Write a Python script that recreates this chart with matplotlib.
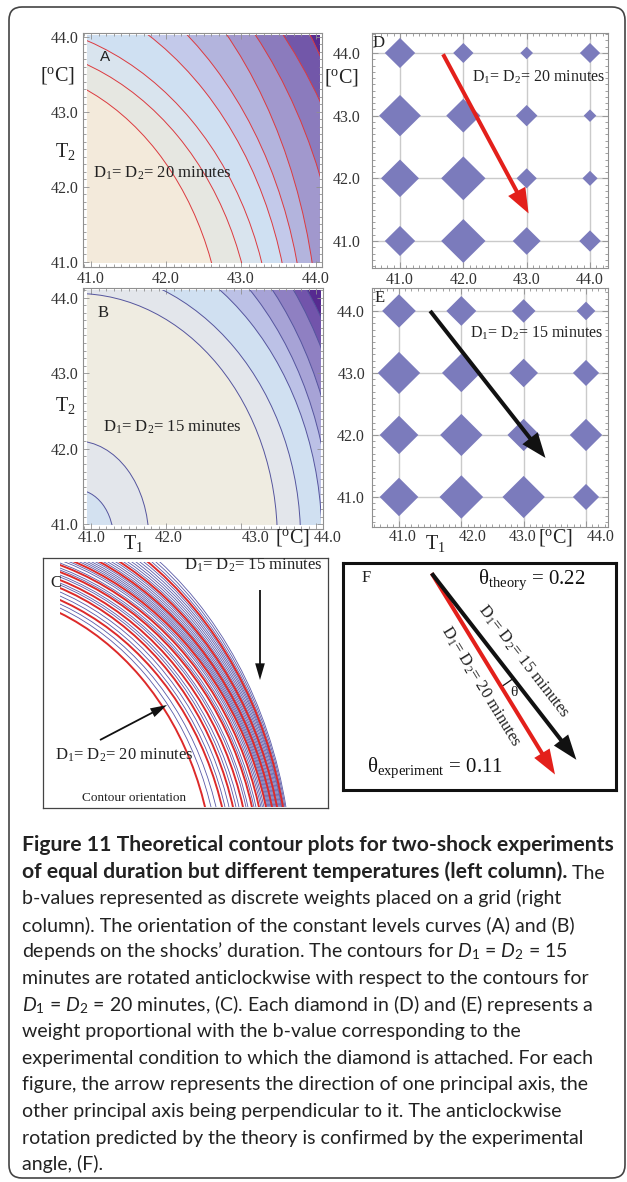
import numpy as np
import matplotlib.pyplot as plt
from matplotlib.patches import Ellipse, Polygon, Rectangle, FancyBboxPatch, Arc
from matplotlib.ticker import MultipleLocator

plt.rcParams['font.family'] = 'Liberation Serif'
plt.rcParams['mathtext.fontset'] = 'custom'
plt.rcParams['mathtext.rm'] = 'Liberation Serif'
plt.rcParams['mathtext.it'] = 'Liberation Serif:italic'
plt.rcParams['mathtext.sf'] = 'Lato:italic'
plt.rcParams['mathtext.bf'] = 'Lato'

W, H = 627, 1182

# temperature grid (deg C)
temps = [41.0, 42.0, 43.0, 44.0]
temp_labels = ['41.0', '42.0', '43.0', '44.0']

# level curves of the theoretical surface, as (T1, T2) where each curve
# enters (start) and leaves (end) the plotted square
a_start = [(40.95, 43.29), (40.95, 43.63), (40.95, 43.95), (41.76, 44.03), (42.28, 44.03),
           (42.81, 44.03), (43.19, 44.03), (43.56, 44.03), (43.92, 44.03)]
a_end = [(42.61, 40.98), (43.01, 40.98), (43.28, 40.98), (43.55, 40.98), (43.75, 40.98),
         (43.95, 40.98), (44.05, 42.16), (44.05, 43.15), (44.05, 43.76)]
b_start = [(40.95, 41.43), (40.95, 42.09), (40.95, 44.05), (41.96, 44.10), (42.72, 44.10),
           (43.12, 44.10), (43.42, 44.10), (43.70, 44.10), (43.88, 44.10)]
b_end = [(41.28, 40.99), (41.76, 40.99), (43.48, 40.99), (43.79, 40.99), (44.07, 41.10),
         (44.07, 42.07), (44.07, 42.70), (44.07, 43.33), (44.07, 43.73)]

# b-value weights (half diagonal of each diamond), rows T2 = 44..41, columns T1 = 41..44
d_weights = [[0.24, 0.16, 0.10, 0.16],
             [0.33, 0.27, 0.17, 0.10],
             [0.30, 0.35, 0.16, 0.12],
             [0.24, 0.35, 0.22, 0.17]]
e_weights = [[0.27, 0.24, 0.19, 0.15],
             [0.34, 0.31, 0.23, 0.21],
             [0.31, 0.34, 0.26, 0.26],
             [0.31, 0.35, 0.34, 0.21]]

# principal axis arrows (T1, T2): tail, head
d_arrow = [(41.68, 43.98), (43.03, 41.44)]
e_arrow = [(41.50, 44.00), (43.35, 41.63)]

theta_theory = 0.22
theta_experiment = 0.11

# contour orientation overlay: where each curve enters (left/top edge) and
# where it meets the bottom edge, in panel pixels
c_red_start = [(17, 195), (17, 208), (17, 220), (17, 228), (17, 236), (17, 243), (32, 246),
               (57, 246), (77, 246), (105, 246)]
c_red_end = [162, 179, 190, 200, 209, 216, 223, 229, 234, 240]
c_blue_start = [(17, 200), (17, 204), (17, 212), (17, 216), (17, 223), (17, 225), (17, 231),
                (17, 233), (17, 238), (17, 240), (17, 245), (22, 246), (27, 246), (37, 246),
                (41, 246), (45, 246), (49, 246), (53, 246), (61, 246), (65, 246), (69, 246),
                (73, 246), (81, 246), (85, 246), (89, 246), (93, 246), (97, 246), (101, 246),
                (109, 246), (113, 246), (117, 246)]
c_blue_end = [168, 173, 182, 186, 193, 196, 203, 205, 211, 213, 218, 219.5, 221, 224, 225, 226,
              227, 228, 230, 231, 232, 233, 235, 236, 237, 238, 238.7, 239.4, 241, 242, 243]

caption_bold = ["Figure 11 Theoretical contour plots for two-shock experiments",
                "of equal duration but different temperatures (left column)."]
caption_lines = [
    "b-values represented as discrete weights placed on a grid (right",
    "column). The orientation of the constant levels curves (A) and (B)",
    r"depends on the shocks’ duration. The contours for $\mathsf{D}_{\mathbf{1}}$ = $\mathsf{D}_{\mathbf{2}}$ = 15",
    "minutes are rotated anticlockwise with respect to the contours for",
    r"$\mathsf{D}_{\mathbf{1}}$ = $\mathsf{D}_{\mathbf{2}}$ = 20 minutes, (C). Each diamond in (D) and (E) represents a",
    "weight proportional with the b-value corresponding to the",
    "experimental condition to which the diamond is attached. For each",
    "figure, the arrow represents the direction of one principal axis, the",
    "other principal axis being perpendicular to it. The anticlockwise",
    "rotation predicted by the theory is confirmed by the experimental",
    "angle, (F).",
]

a_colors = ['#f3eadb', '#e6e7e1', '#d9e4ee', '#cfe0f2', '#c3c9ea', '#b3b4dd', '#a198cd',
            '#8b7bbd', '#7257a9', '#582c90']
b_colors = ['#d3e1f0', '#e3e6eb', '#efece1', '#e3e6eb', '#d0e0f1', '#bcc1e6', '#a7a3d6',
            '#8f80c2', '#7254ab', '#562a90']
DIAMOND = '#7b7bbc'
GRAY = '#909090'


def box(l, t, w, h):
    return [l / W, 1 - (t + h) / H, w / W, h / H]


def radii(p, q, c):
    # semi-axes of the ellipse centred on c that passes through p and q
    x1, y1 = p[0] - c[0], p[1] - c[1]
    x2, y2 = q[0] - c[0], q[1] - c[1]
    det = x1**2 * y2**2 - x2**2 * y1**2
    u = (y2**2 - y1**2) / det
    v = (x1**2 - x2**2) / det
    return 1 / np.sqrt(u), 1 / np.sqrt(v)


def style_frame(ax, xlim, ylim, ypad, xpad, xlabels=True):
    ax.set_xlim(*xlim)
    ax.set_ylim(*ylim)
    ax.set_xticks(temps)
    ax.set_yticks(temps)
    ax.set_xticklabels(temp_labels)
    ax.set_yticklabels(temp_labels)
    ax.xaxis.set_minor_locator(MultipleLocator(0.1))
    ax.yaxis.set_minor_locator(MultipleLocator(0.1))
    ax.tick_params(which='both', direction='in', top=True, right=True, color=GRAY,
                   width=0.6, labelsize=11.5, labelcolor='#333333')
    ax.tick_params(which='major', length=4)
    ax.tick_params(which='minor', length=2)
    ax.tick_params(axis='y', pad=ypad)
    ax.tick_params(axis='x', pad=xpad, labelbottom=xlabels)
    for s in ax.spines.values():
        s.set_color(GRAY)
        s.set_linewidth(0.8)


def contour_panel(ax, starts, ends, colors, line_color, fill, center):
    x0, x1, y0, y1 = fill
    bg = Rectangle((x0, y0), x1 - x0, y1 - y0, facecolor=colors[-1], edgecolor='none', zorder=0)
    ax.add_patch(bg)
    rr = [radii(p, q, center) for p, q in zip(starts, ends)]
    for (rx, ry), col in reversed(list(zip(rr, colors))):
        e = ax.add_patch(Ellipse(center, 2 * rx, 2 * ry, facecolor=col, edgecolor='none', zorder=1))
        e.set_clip_path(bg)
    for rx, ry in rr:
        e = ax.add_patch(Ellipse(center, 2 * rx, 2 * ry, facecolor='none', edgecolor=line_color,
                                 lw=0.7, zorder=2))
        e.set_clip_path(bg)


def arrow(ax, tail, head, color, shaft=2.9, hl=18, hw=14):
    ax.annotate('', xy=head, xytext=tail, zorder=5,
                arrowprops=dict(arrowstyle=f'simple,head_length={hl},head_width={hw},tail_width={shaft}',
                                mutation_scale=1, fc=color, ec='none', lw=0,
                                shrinkA=0, shrinkB=0))


def diamond_panel(ax, weights, arr, color):
    for v in temps:
        ax.axvline(v, color='#cacaca', lw=1, zorder=0)
        ax.axhline(v, color='#cacaca', lw=1, zorder=0)
    for row, t2 in zip(weights, temps[::-1]):
        for w, t1 in zip(row, temps):
            ax.add_patch(Polygon([(t1 - w, t2), (t1, t2 + w), (t1 + w, t2), (t1, t2 - w)],
                                 closed=True, facecolor=DIAMOND, edgecolor='none', zorder=2))
    arrow(ax, arr[0], arr[1], color)


fig = plt.figure(figsize=(W / 100, H / 100), dpi=100)

# ---- A: 20 minute contours
axA = fig.add_axes(box(83, 33, 239, 234))
contour_panel(axA, a_start, a_end, a_colors, '#dc3a3f', (40.95, 44.05, 40.98, 44.03), (39.7, 39.7))
style_frame(axA, (40.893, 44.08), (40.933, 44.053), 3.5, 3)
axA.text(0.092, 0.897, 'A', transform=axA.transAxes, family='Liberation Sans', fontsize=11,
         ha='center', va='center', color='#222222')
axA.text(0.042, 0.402, 'D$_1$= D$_2$= 20 minutes', transform=axA.transAxes, fontsize=12,
         ha='left', va='center', color='#222222')

# ---- B: 15 minute contours
axB = fig.add_axes(box(83, 288, 240, 241))
contour_panel(axB, b_start, b_end, b_colors, '#55559e', (40.95, 44.07, 40.99, 44.10), (40.8, 40.8))
style_frame(axB, (40.893, 44.093), (40.94, 44.127), 3.5, 2.5, xlabels=False)
axB.text(0.083, 0.896, 'B', transform=axB.transAxes, fontsize=12, ha='center', va='center',
         color='#222222')
axB.text(0.083, 0.42, 'D$_1$= D$_2$= 15 minutes', transform=axB.transAxes, fontsize=12,
         ha='left', va='center', color='#222222')
for x, lab in zip([41.01, 42.03, 43.19, 44.15], temp_labels):
    axB.text(x, -0.037, lab, transform=axB.get_xaxis_transform(), fontsize=11.5,
             ha='center', va='center', color='#333333')

# ---- D: 20 minute weights
axD = fig.add_axes(box(372, 33, 236, 235))
diamond_panel(axD, d_weights, d_arrow, '#e3201b')
style_frame(axD, (40.558, 44.284), (40.569, 44.319), 8, 3)
axD.text(0.004, 0.957, 'D', transform=axD.transAxes, fontsize=12, ha='left', va='center',
         color='#222222')
axD.text(0.424, 0.81, 'D$_1$= D$_2$= 20 minutes', transform=axD.transAxes, fontsize=11.5,
         ha='left', va='center', color='#222222', zorder=6)

# ---- E: 15 minute weights
axE = fig.add_axes(box(372, 288, 236, 239))
diamond_panel(axE, e_weights, e_arrow, '#111111')
style_frame(axE, (40.567, 44.353), (40.516, 44.37), 5, 2.5, xlabels=False)
axE.text(0.012, 0.958, 'E', transform=axE.transAxes, fontsize=12, ha='left', va='center',
         color='#222222')
axE.text(0.415, 0.81, 'D$_1$= D$_2$= 15 minutes', transform=axE.transAxes, fontsize=11.5,
         ha='left', va='center', color='#222222', zorder=6)
for x, lab in zip([41.06, 42.19, 42.99, 44.23], temp_labels):
    axE.text(x, -0.042, lab, transform=axE.get_xaxis_transform(), fontsize=11.5,
             ha='center', va='center', color='#333333')

# ---- C: overlay of both contour families
axC = fig.add_axes(box(43, 558, 285, 250))
axC.set_xlim(0, 285)
axC.set_ylim(0, 250)
axC.set_xticks([])
axC.set_yticks([])
for s in axC.spines.values():
    s.set_color('#444444')
    s.set_linewidth(0.9)
c_center = (-80, -80)
c_clip = Rectangle((17, 1), 268, 245, transform=axC.transData, facecolor='none', edgecolor='none')
axC.add_patch(c_clip)
for p, xe in zip(c_blue_start, c_blue_end):
    rx, ry = radii(p, (xe, 1), c_center)
    e = axC.add_patch(Ellipse(c_center, 2 * rx, 2 * ry, facecolor='none', edgecolor='#5a5aa8', lw=0.6))
    e.set_clip_path(c_clip)
for p, xe in zip(c_red_start, c_red_end):
    rx, ry = radii(p, (xe, 1), c_center)
    e = axC.add_patch(Ellipse(c_center, 2 * rx, 2 * ry, facecolor='none', edgecolor='#dd2a2a', lw=1.4))
    e.set_clip_path(c_clip)
axC.text(7, 225, 'C', fontsize=12, ha='left', va='center', color='#222222')
axC.text(210, 243, 'D$_1$= D$_2$= 15 minutes', fontsize=12, ha='center', va='center', color='#222222')
axC.text(12, 53, 'D$_1$= D$_2$= 20 minutes', fontsize=12, ha='left', va='center', color='#222222')
axC.text(39, 10, 'Contour orientation', fontsize=9.5, ha='left', va='center', color='#222222')
axC.annotate('', xy=(217, 128), xytext=(217, 218),
             arrowprops=dict(arrowstyle='simple,head_length=12,head_width=7,tail_width=1.3',
                             mutation_scale=1, fc='#111111', ec='none', shrinkA=0, shrinkB=0))
axC.annotate('', xy=(124, 103), xytext=(57, 68),
             arrowprops=dict(arrowstyle='simple,head_length=12,head_width=7,tail_width=1.3',
                             mutation_scale=1, fc='#111111', ec='none', shrinkA=0, shrinkB=0))

# ---- F: principal axis directions
axF = fig.add_axes(box(343, 563, 273, 227))
axF.set_xlim(0, 273)
axF.set_ylim(227, 0)
axF.set_xticks([])
axF.set_yticks([])
for s in axF.spines.values():
    s.set_color('#111111')
    s.set_linewidth(2.2)
tail = np.array([88.7, 10.3])
length = 236
ang_black = np.deg2rad(52.2)
ang_red = ang_black + theta_experiment
u_black = np.array([np.cos(ang_black), np.sin(ang_black)])
u_red = np.array([np.cos(ang_red), np.sin(ang_red)])
arrow(axF, tail, tail + length * u_red, '#e3201b', shaft=2.9, hl=18, hw=13)
arrow(axF, tail, tail + length * u_black, '#111111', shaft=2.9, hl=18, hw=13)
axF.add_patch(Arc(tuple(tail), 266, 266, theta1=np.rad2deg(ang_black), theta2=np.rad2deg(ang_red),
                  color='#111111', lw=0.9))
mid = (ang_black + ang_red) / 2
axF.text(*(tail + 145 * np.array([np.cos(mid), np.sin(mid)])), 'θ', fontsize=11,
         ha='center', va='center', color='#222222')
n_black = np.array([u_black[1], -u_black[0]])
n_red = np.array([u_red[1], -u_red[0]])
axF.text(*(tail + 126 * u_black + 18 * n_black), 'D$_1$= D$_2$= 15 minutes', fontsize=12,
         rotation=-np.rad2deg(ang_black), rotation_mode='anchor', ha='center', va='center',
         color='#222222')
axF.text(*(tail + 122 * u_red - 17 * n_red), 'D$_1$= D$_2$= 20 minutes', fontsize=12,
         rotation=-np.rad2deg(ang_red), rotation_mode='anchor', ha='center', va='center',
         color='#222222')
axF.text(19, 15, 'F', fontsize=12, ha='left', va='center', color='#222222')
axF.text(135, 17, f'θ$_{{\\mathrm{{theory}}}}$ = {theta_theory:.2f}', fontsize=15,
         ha='left', va='center', color='#111111')
axF.text(24, 205, f'θ$_{{\\mathrm{{experiment}}}}$ = {theta_experiment:.2f}', fontsize=15,
         ha='left', va='center', color='#111111')

# ---- axis titles and caption on a pixel overlay
ov = fig.add_axes([0, 0, 1, 1])
ov.set_xlim(0, W)
ov.set_ylim(H, 0)
ov.axis('off')
deg = r'[$^{\mathrm{o}}$C]'
for x, y, s in [(58, 75, deg), (65, 152, 'T$_2$'), (65, 405, 'T$_2$'), (133, 544, 'T$_1$'),
                (293, 538, deg), (342, 78, deg), (435, 544, 'T$_1$'), (556, 537, deg)]:
    ov.text(x, y, s, fontsize=14.5, ha='center', va='center', color='#222222')

fig.add_artist(FancyBboxPatch((0.09, 0.04), 6.16, 11.71, boxstyle='round,pad=0,rounding_size=0.13',
                              transform=fig.dpi_scale_trans, fill=False, lw=1.2, ec='#444444'))

x0, y0, dy = 22, 851, 26.6
cap = dict(family='Lato', va='baseline', ha='left', color='#222222')
ov.text(x0, y0, caption_bold[0], fontweight='bold', fontsize=15.2, **cap)
t2 = ov.text(x0, y0 + dy, caption_bold[1], fontweight='bold', fontsize=15.2, **cap)
ov.annotate(' The', xy=(1, 0), xycoords=t2, family='Lato', fontsize=14, va='bottom', ha='left',
            color='#222222')
for i, line in enumerate(caption_lines):
    ov.text(x0, y0 + (i + 2) * dy, line, fontsize=14, **cap)

fig.savefig('out.png', dpi=100)
